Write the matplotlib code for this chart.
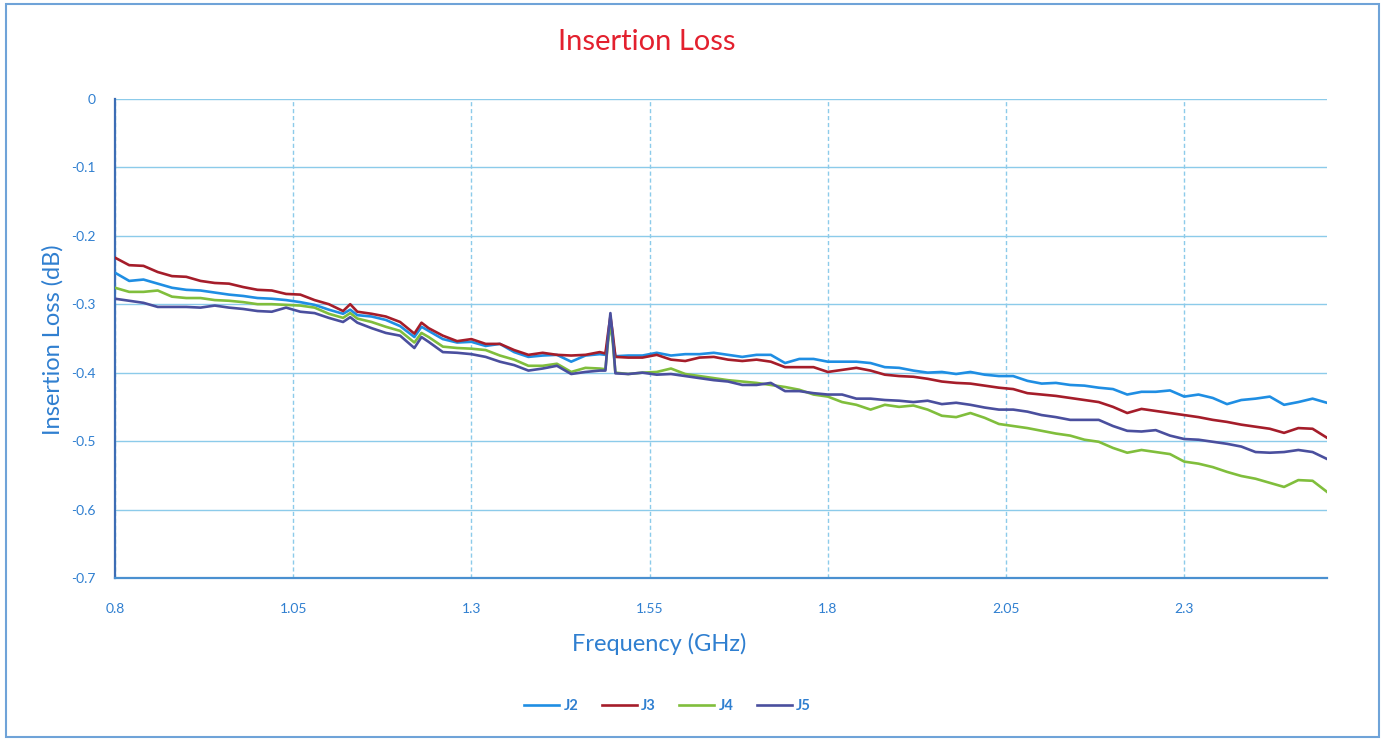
import matplotlib.pyplot as plt
from matplotlib.patches import Rectangle

plt.rcParams["font.family"] = ["Lato", "DejaVu Sans"]

# Frequency points (GHz), including a few close points around the spike near 1.495 GHz
freq = [
    0.80, 0.82, 0.84, 0.86, 0.88, 0.90, 0.92, 0.94, 0.96, 0.98,
    1.00, 1.02, 1.04, 1.06, 1.08, 1.10, 1.12, 1.13, 1.14, 1.16,
    1.18, 1.20, 1.22, 1.23, 1.24, 1.26, 1.28, 1.30, 1.32, 1.34,
    1.36, 1.38, 1.40, 1.42, 1.44, 1.46, 1.48, 1.488, 1.492, 1.495,
    1.498, 1.502, 1.52, 1.54, 1.56, 1.58, 1.60, 1.62, 1.64, 1.66,
    1.68, 1.70, 1.72, 1.74, 1.76, 1.78, 1.80, 1.82, 1.84, 1.86,
    1.88, 1.90, 1.92, 1.94, 1.96, 1.98, 2.00, 2.02, 2.04, 2.06,
    2.08, 2.10, 2.12, 2.14, 2.16, 2.18, 2.20, 2.22, 2.24, 2.26,
    2.28, 2.30, 2.32, 2.34, 2.36, 2.38, 2.40, 2.42, 2.44, 2.46,
    2.48, 2.50,
]

j2 = [
    -0.254, -0.266, -0.264, -0.270, -0.276, -0.279, -0.280, -0.283, -0.286, -0.288,
    -0.291, -0.292, -0.294, -0.297, -0.301, -0.308, -0.314, -0.308, -0.316, -0.318,
    -0.323, -0.332, -0.348, -0.333, -0.339, -0.351, -0.356, -0.355, -0.361, -0.358,
    -0.370, -0.377, -0.375, -0.374, -0.384, -0.375, -0.373, -0.374, -0.350, -0.330,
    -0.350, -0.376, -0.375, -0.375, -0.371, -0.375, -0.373, -0.373, -0.371, -0.374,
    -0.377, -0.374, -0.374, -0.386, -0.380, -0.380, -0.384, -0.384, -0.384, -0.386,
    -0.392, -0.393, -0.397, -0.400, -0.399, -0.402, -0.399, -0.403, -0.405, -0.405,
    -0.412, -0.416, -0.415, -0.418, -0.419, -0.422, -0.424, -0.432, -0.428, -0.428,
    -0.426, -0.435, -0.432, -0.437, -0.446, -0.440, -0.438, -0.435, -0.447, -0.443,
    -0.438, -0.444,
]

j3 = [
    -0.232, -0.243, -0.244, -0.253, -0.259, -0.260, -0.266, -0.269, -0.270, -0.275,
    -0.279, -0.280, -0.285, -0.286, -0.294, -0.300, -0.310, -0.300, -0.311, -0.314,
    -0.318, -0.326, -0.343, -0.327, -0.335, -0.346, -0.354, -0.351, -0.358, -0.358,
    -0.367, -0.374, -0.371, -0.374, -0.375, -0.374, -0.370, -0.372, -0.340, -0.318,
    -0.340, -0.377, -0.378, -0.378, -0.374, -0.381, -0.383, -0.378, -0.377, -0.381,
    -0.383, -0.381, -0.384, -0.392, -0.392, -0.392, -0.399, -0.396, -0.393, -0.397,
    -0.403, -0.405, -0.406, -0.409, -0.413, -0.415, -0.416, -0.419, -0.422, -0.424,
    -0.430, -0.432, -0.434, -0.437, -0.440, -0.443, -0.450, -0.459, -0.453, -0.456,
    -0.459, -0.462, -0.465, -0.469, -0.472, -0.476, -0.479, -0.482, -0.488, -0.481,
    -0.482, -0.495,
]

j4 = [
    -0.276, -0.282, -0.282, -0.280, -0.289, -0.291, -0.291, -0.294, -0.295, -0.297,
    -0.300, -0.300, -0.301, -0.302, -0.305, -0.314, -0.320, -0.313, -0.321, -0.326,
    -0.333, -0.339, -0.356, -0.342, -0.348, -0.362, -0.364, -0.365, -0.367, -0.375,
    -0.381, -0.390, -0.390, -0.387, -0.399, -0.393, -0.394, -0.395, -0.352, -0.326,
    -0.352, -0.400, -0.402, -0.400, -0.399, -0.394, -0.402, -0.405, -0.408, -0.411,
    -0.413, -0.415, -0.418, -0.421, -0.425, -0.432, -0.435, -0.443, -0.447, -0.454,
    -0.447, -0.450, -0.448, -0.454, -0.463, -0.465, -0.459, -0.466, -0.475, -0.478,
    -0.481, -0.485, -0.489, -0.492, -0.498, -0.501, -0.510, -0.517, -0.513, -0.516,
    -0.519, -0.530, -0.533, -0.538, -0.545, -0.551, -0.555, -0.561, -0.567, -0.557,
    -0.558, -0.574,
]

j5 = [
    -0.292, -0.295, -0.298, -0.304, -0.304, -0.304, -0.305, -0.302, -0.305, -0.307,
    -0.310, -0.311, -0.305, -0.311, -0.313, -0.320, -0.326, -0.319, -0.327, -0.335,
    -0.342, -0.346, -0.364, -0.348, -0.355, -0.370, -0.371, -0.373, -0.377, -0.384,
    -0.389, -0.397, -0.394, -0.390, -0.402, -0.399, -0.397, -0.397, -0.345, -0.313,
    -0.345, -0.401, -0.402, -0.400, -0.403, -0.402, -0.405, -0.408, -0.411, -0.413,
    -0.418, -0.418, -0.415, -0.427, -0.427, -0.430, -0.432, -0.432, -0.438, -0.438,
    -0.440, -0.441, -0.443, -0.441, -0.446, -0.444, -0.447, -0.451, -0.454, -0.454,
    -0.457, -0.462, -0.465, -0.469, -0.469, -0.469, -0.478, -0.485, -0.486, -0.484,
    -0.492, -0.497, -0.498, -0.501, -0.504, -0.508, -0.516, -0.517, -0.516, -0.513,
    -0.516, -0.526,
]

x_ticks = [0.8, 1.05, 1.3, 1.55, 1.8, 2.05, 2.3]
x_tick_labels = ["0.8", "1.05", "1.3", "1.55", "1.8", "2.05", "2.3"]
y_ticks = [0, -0.1, -0.2, -0.3, -0.4, -0.5, -0.6, -0.7]
y_tick_labels = ["0", "-0.1", "-0.2", "-0.3", "-0.4", "-0.5", "-0.6", "-0.7"]

text_blue = "#2f7fd0"
grid_blue = "#8ccbea"

fig = plt.figure(figsize=(13.85, 7.41), dpi=100)
ax = fig.add_axes([0.083, 0.22, 0.875, 0.6466])

ax.plot(freq, j2, color="#1f8ee3", lw=1.9, label="J2", zorder=3)
ax.plot(freq, j3, color="#a51d2a", lw=1.9, label="J3", zorder=3)
ax.plot(freq, j4, color="#80be3c", lw=1.9, label="J4", zorder=3)
ax.plot(freq, j5, color="#4a4f9e", lw=1.9, label="J5", zorder=4)

ax.set_xlim(0.8, 2.5)
ax.set_ylim(-0.7, 0)
ax.set_xticks(x_ticks)
ax.set_xticklabels(x_tick_labels)
ax.set_yticks(y_ticks)
ax.set_yticklabels(y_tick_labels)
ax.tick_params(axis="both", length=0, labelsize=10, labelcolor=text_blue)
ax.tick_params(axis="x", pad=18)
ax.tick_params(axis="y", pad=14)

# gridlines: solid horizontal, dashed vertical
ax.grid(True, axis="y", color=grid_blue, lw=1.0, linestyle="-")
ax.grid(True, axis="x", color=grid_blue, lw=1.0, linestyle=(0, (3, 2)))
ax.set_axisbelow(True)

for side in ["top", "right"]:
    ax.spines[side].set_visible(False)
ax.spines["left"].set_color("#3d6db5")
ax.spines["left"].set_linewidth(1.6)
ax.spines["bottom"].set_color("#4a90d0")
ax.spines["bottom"].set_linewidth(1.6)

fig.text(0.467, 0.943, "Insertion Loss", color="#e3202e", fontsize=21,
         ha="center", va="center")
fig.text(0.476, 0.131, "Frequency (GHz)", color=text_blue, fontsize=17,
         ha="center", va="center")
fig.text(0.038, 0.541, "Insertion Loss (dB)", color=text_blue, fontsize=17,
         ha="center", va="center", rotation=90)

leg = fig.legend(loc="center", bbox_to_anchor=(0.482, 0.047), ncol=4, frameon=False,
                 fontsize=10.5, handlelength=2.4, columnspacing=1.6, handletextpad=0.3)
for t in leg.get_texts():
    t.set_color(text_blue)
    t.set_fontweight("bold")

# outer chart border
fig.patches.append(Rectangle((0.004, 0.006), 0.992, 0.988, transform=fig.transFigure,
                             fill=False, edgecolor="#6fa3d8", lw=1.5))

fig.savefig("out.png", dpi=100)
